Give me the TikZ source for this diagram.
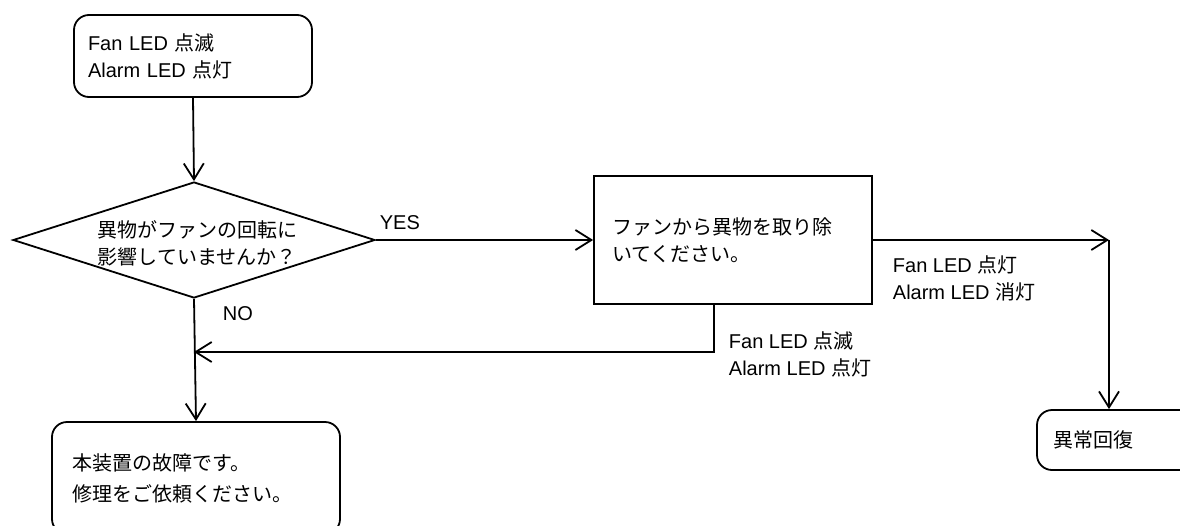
\documentclass[tikz,border=0pt]{standalone}
\usepackage{fontspec}
\setmainfont{Liberation Sans}
\newfontfamily\jp{Noto Sans CJK JP}
\usetikzlibrary{arrows.meta,shapes.geometric}
\begin{document}
\begin{tikzpicture}[x=1pt,y=-1pt,line width=1.8pt,
  every node/.style={font=\fontsize{20}{27}\selectfont, inner sep=0pt},
  jpfont/.style={font=\fontsize{20}{27}\selectfont\jp},
  jpwide/.style={font=\fontsize{20}{31}\selectfont\jp},
  rbox/.style={draw, rounded corners=15pt, align=left},
  sbox/.style={draw, align=left},
  lbl/.style={anchor=west, align=left},
  arr/.style={-{Straight Barb[length=16pt,width=20pt]}}]
\useasboundingbox (0,0) rectangle (1180,525);

% boxes
\node[rbox, minimum width=238pt, minimum height=82pt, text width=210pt, inner xsep=14pt] (start) at (193,56) {Fan LED {\jp 点滅}\\Alarm LED {\jp 点灯}};
\node[draw, diamond, minimum width=362pt, minimum height=116pt] (q) at (194,240) {};
\node[jpfont, align=center] (qt) at (197,243.5) {異物がファンの回転に\\影響していませんか？};
\node[sbox, jpfont, minimum width=278pt, minimum height=128pt, text width=242pt, inner xsep=18pt] (rm) at (733,240) {ファンから異物を取り除\\いてください。};
\node[rbox, jpwide, minimum width=288pt, minimum height=112pt, text width=248pt, inner xsep=20pt] (fail) at (196,478) {本装置の故障です。\\修理をご依頼ください。};
\node[rbox, jpfont, minimum width=163pt, minimum height=60pt, text width=131pt, inner xsep=16pt] (rec) at (1118.5,440) {異常回復};

% labels
\node[lbl] (yes) at (379,223) {YES};
\node[lbl] (no) at (222,314) {NO};
\node[lbl] (ok) at (892,278.5) {Fan LED {\jp 点灯}\\Alarm LED {\jp 消灯}};
\node[lbl] (ng) at (728,354) {Fan LED {\jp 点滅}\\Alarm LED {\jp 点灯}};

% connectors
\coordinate (c1) at (1109,240);
\coordinate (rb) at (714,352);
\draw[arr] (start.south) -- (q.north);
\draw[arr] (q.east) -- (rm.west);
\draw[arr] (rm.east) -- (c1);
\draw[arr] (c1) -- (c1 |- rec.north);
\draw[arr] (rb |- rm.south) -- (rb) -- (rb -| q.south);
\draw[arr] (q.south) -- (fail.north);
\end{tikzpicture}
\end{document}
